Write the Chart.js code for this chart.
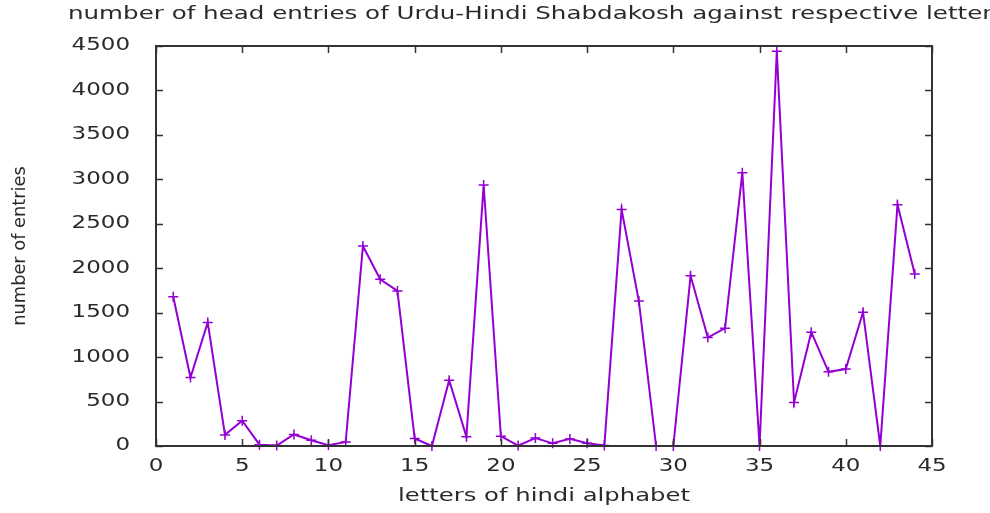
<!DOCTYPE html>
<html>
<head>
<meta charset="utf-8">
<script src="https://cdn.jsdelivr.net/npm/chart.js@4.4.1/dist/chart.umd.min.js"></script>
<style>
  html, body { margin: 0; padding: 0; background: #fff; }
  #wrap { width: 990px; height: 513px; }
</style>
</head>
<body>
<div id="wrap"><canvas id="myChart" width="990" height="513"></canvas></div>
<script>
// letter number (x) and number of head entries (y)
const letters = [1, 2, 3, 4, 5, 6, 7, 8, 9, 10, 11, 12, 13, 14, 15, 16, 17, 18, 19, 20, 21, 22,
  23, 24, 25, 26, 27, 28, 29, 30, 31, 32, 33, 34, 35, 36, 37, 38, 39, 40, 41, 42, 43, 44];
const entries = [1680, 770, 1390, 125, 285, 15, 5, 130, 65, 10, 45, 2250, 1875, 1745, 85, 0,
  740, 105, 2935, 110, 5, 90, 30, 80, 30, 5, 2660, 1630, 0, 0, 1915, 1220, 1325, 3075, 0,
  4440, 490, 1280, 835, 865, 1505, 0, 2715, 1935];
const xTicks = [0, 5, 10, 15, 20, 25, 30, 35, 40, 45];
const yTicks = [0, 500, 1000, 1500, 2000, 2500, 3000, 3500, 4000, 4500];

const titleText = 'number of head entries of Urdu-Hindi Shabdakosh against respective letters of hindi alphabet';
const xTitle = 'letters of hindi alphabet';
const yTitle = 'number of entries';

const STRETCH = 1.35;
const textColor = '#2a2a2a';

function stretchedText(ctx, text, x, y, align, size) {
  ctx.save();
  ctx.font = size + 'px "DejaVu Sans"';
  ctx.textAlign = align;
  ctx.textBaseline = 'middle';
  ctx.translate(x, y);
  ctx.scale(STRETCH, 1);
  ctx.fillText(text, 0, 0);
  ctx.restore();
}

// gnuplot-like frame: box border, inward ticks, labels and titles
const gnuplotFrame = {
  id: 'gnuplotFrame',
  afterDraw(chart) {
    const { ctx, chartArea: a, scales: { x, y } } = chart;
    const tick = 7;
    ctx.save();
    ctx.strokeStyle = '#333';
    ctx.lineWidth = 1.5;
    ctx.beginPath();
    x.ticks.forEach((t, i) => {
      const px = Math.round(x.getPixelForTick(i)) + 0.5;
      ctx.moveTo(px, a.bottom); ctx.lineTo(px, a.bottom - tick);
      ctx.moveTo(px, a.top); ctx.lineTo(px, a.top + tick);
    });
    y.ticks.forEach((t, i) => {
      const py = Math.round(y.getPixelForTick(i)) + 0.5;
      ctx.moveTo(a.left, py); ctx.lineTo(a.left + tick, py);
      ctx.moveTo(a.right, py); ctx.lineTo(a.right - tick, py);
    });
    ctx.stroke();
    ctx.lineWidth = 2;
    ctx.strokeRect(a.left, a.top, a.right - a.left, a.bottom - a.top);

    ctx.fillStyle = textColor;
    x.ticks.forEach((t, i) => {
      stretchedText(ctx, String(t.value), x.getPixelForTick(i), a.bottom + 21, 'center', 17);
    });
    y.ticks.forEach((t, i) => {
      stretchedText(ctx, String(t.value), a.left - 26, y.getPixelForTick(i), 'right', 17);
    });

    stretchedText(ctx, xTitle, (a.left + a.right) / 2, a.bottom + 50, 'center', 18);
    stretchedText(ctx, titleText, 68, 14, 'left', 18.2);

    // rotated y title
    ctx.save();
    ctx.font = '16px "DejaVu Sans"';
    ctx.textAlign = 'center';
    ctx.textBaseline = 'middle';
    ctx.translate(20, (a.top + a.bottom) / 2);
    ctx.rotate(-Math.PI / 2);
    ctx.scale(1.11, 1.15);
    ctx.fillText(yTitle, 0, 0);
    ctx.restore();
    ctx.restore();
  }
};

const ctx = document.getElementById('myChart').getContext('2d');

const myChart = new Chart(ctx, {
  type: 'line',
  data: {
    datasets: [{
      label: 'entries',
      data: letters.map((l, i) => ({ x: l, y: entries[i] })),
      borderColor: '#9400d3',
      borderWidth: 2,
      pointStyle: 'cross',
      pointRadius: 5,
      pointBorderWidth: 1.5,
      pointBorderColor: '#9400d3',
      tension: 0,
      clip: false,
    }],
  },
  options: {
    responsive: false,
    animation: false,
    events: [],
    layout: { padding: { left: 156, right: 58, top: 46, bottom: 67 } },
    plugins: {
      legend: { display: false },
      title: { display: false },
      tooltip: { enabled: false },
    },
    scales: {
      x: {
        type: 'linear',
        display: false,
        min: 0,
        max: 45,
        afterBuildTicks: s => { s.ticks = xTicks.map(v => ({ value: v })); },
      },
      y: {
        type: 'linear',
        display: false,
        min: 0,
        max: 4500,
        afterBuildTicks: s => { s.ticks = yTicks.map(v => ({ value: v })); },
      },
    },
  },
  plugins: [gnuplotFrame],
});
</script>
</body>
</html>
